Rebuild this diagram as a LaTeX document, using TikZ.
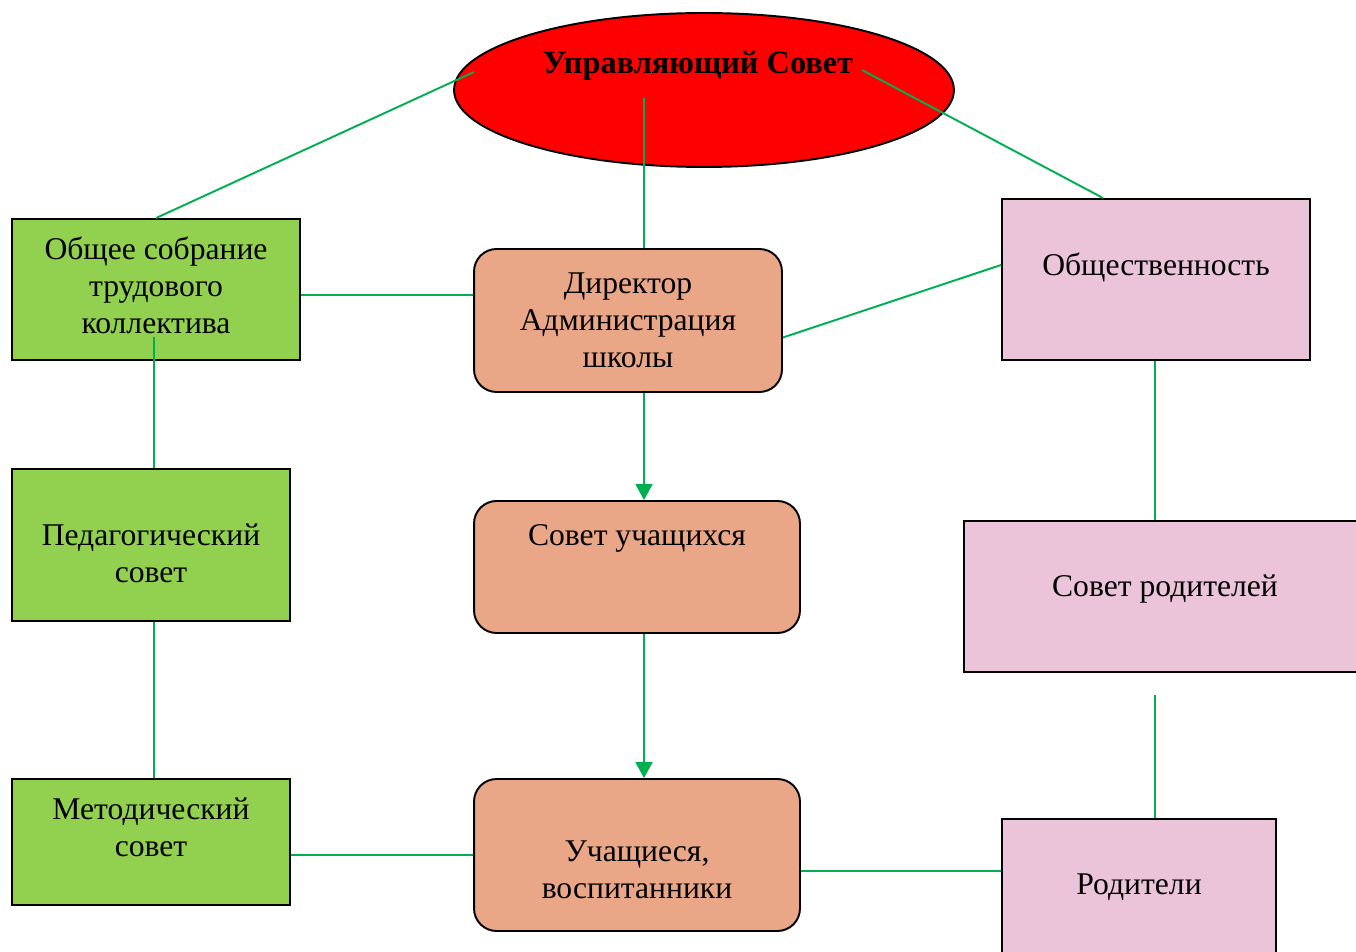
\documentclass[tikz,border=0pt]{standalone}
\usepackage{fontspec}
\setmainfont{Liberation Serif}
\usetikzlibrary{arrows.meta,shapes.geometric}
\definecolor{lnkgreen}{RGB}{0,176,80}
\definecolor{grass}{RGB}{146,208,80}
\definecolor{boxorange}{RGB}{234,167,135}
\definecolor{boxpink}{RGB}{235,196,218}
\begin{document}
\begin{tikzpicture}[x=0.02cm, y=-0.02cm,
  every label/.style={align=center, font=\fontsize{18}{21}\selectfont, inner sep=0pt},
  grnbox/.style={rectangle, draw, line width=1.1pt, fill=grass},
  orbox/.style={rectangle, rounded corners=0.45cm, draw, line width=1.1pt, fill=boxorange},
  pnkbox/.style={rectangle, draw, line width=1.1pt, fill=boxpink},
  lnk/.style={draw=lnkgreen, line width=1.1pt},
  arr/.style={lnk, -{Triangle[length=0.32cm, width=0.34cm]}}]
\useasboundingbox (0,0) rectangle (1356,952);
\node [ellipse, draw, line width=1.1pt, fill=red, minimum width=10cm, minimum height=3.08cm,
  label={[yshift=0.48cm, xshift=-0.12cm, font=\fontsize{18.4}{21}\selectfont\bfseries]center:Управляющий Совет}] (usov) at (704,90) {};
\node [grnbox, minimum width=5.76cm, minimum height=2.82cm,
  label={[yshift=0.09cm]center:Общее собрание\\трудового\\коллектива}] (obsh) at (156,289.5) {};
\node [grnbox, minimum width=5.56cm, minimum height=3.04cm,
  label={[yshift=-0.16cm]center:Педагогический\\совет}] (ped) at (151,545) {};
\node [grnbox, minimum width=5.56cm, minimum height=2.52cm,
  label={[yshift=0.3cm]center:Методический\\совет}] (met) at (151,842) {};
\node [orbox, minimum width=6.16cm, minimum height=2.86cm,
  label={center:Директор\\Администрация\\школы}] (dir) at (628,320.5) {};
\node [orbox, minimum width=6.52cm, minimum height=2.64cm,
  label={[yshift=0.58cm]center:Совет учащихся}] (sovu) at (637,567) {};
\node [orbox, minimum width=6.52cm, minimum height=3.04cm,
  label={[yshift=-0.3cm]center:Учащиеся,\\воспитанники}] (uch) at (637,855) {};
\node [pnkbox, minimum width=6.16cm, minimum height=3.22cm,
  label={[yshift=0.25cm]center:Общественность}] (obshch) at (1156,279.5) {};
\node [pnkbox, minimum width=7.96cm, minimum height=3.02cm,
  label={[yshift=0.15cm, xshift=0.04cm]center:Совет родителей}] (sovr) at (1163,596.5) {};
\node [pnkbox, minimum width=5.48cm, minimum height=3.2cm,
  label={[yshift=0.24cm]center:Родители}] (rod) at (1139,899) {};
\coordinate (uL) at (474,72);
\coordinate (uM) at (644,98);
\coordinate (uR) at (862,70);
\coordinate (obshB) at (154,337);
\coordinate (sovrB) at (1155,695);
\coordinate (obshR) at ([yshift=-0.11cm]obsh.east);
\coordinate (dirR) at ([yshift=-0.34cm]dir.east);
\coordinate (uchR) at ([yshift=-0.32cm]uch.east);
\draw [lnk] (obsh.north) -- (uL);
\draw [lnk] (uM) -- (uM |- dir.north);
\draw [lnk] (uR) -- ([xshift=2.04cm]obshch.north west);
\draw [lnk] (obshR) -- (obshR -| dir.west);
\draw [lnk] (dirR) -- ([yshift=0.29cm]obshch.west);
\draw [lnk] (obshB) -- (obshB |- ped.north);
\draw [lnk] (ped.south -| obshB) -- (met.north -| obshB);
\draw [arr] (dir.south -| uM) -- (sovu.north -| uM);
\draw [arr] (sovu.south -| uM) -- (uch.north -| uM);
\draw [lnk] (met.east |- uch.west) -- (uch.west);
\draw [lnk] (uchR) -- (uchR -| rod.west);
\draw [lnk] (obshch.south -| sovrB) -- (sovr.north -| sovrB);
\draw [lnk] (sovrB) -- (sovrB |- rod.north);
\end{tikzpicture}
\end{document}
